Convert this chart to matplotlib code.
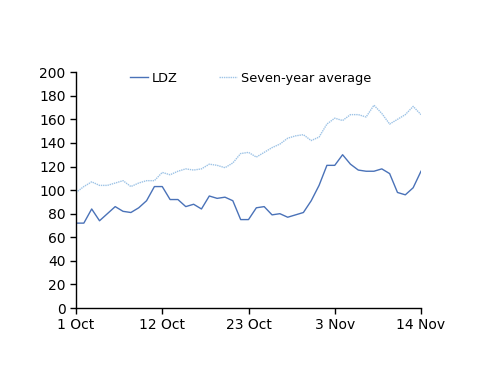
import numpy as np
import matplotlib
matplotlib.use("Agg")
import matplotlib.pyplot as plt

# daily values, 1 Oct .. 14 Nov
ldz = [72, 72, 84, 74, 80, 86, 82, 81, 85, 91, 103, 103, 92, 92, 86, 88, 84, 95, 93, 94,
       91, 75, 75, 85, 86, 79, 80, 77, 79, 81, 91, 104, 121, 121, 130, 122, 117, 116, 116,
       118, 114, 98, 96, 102, 116]
seven_year = [98, 103, 107, 104, 104, 106, 108, 103, 106, 108, 108, 115, 113, 116, 118, 117,
              118, 122, 121, 119, 123, 131, 132, 128, 132, 136, 139, 144, 146, 147, 142, 145,
              156, 161, 159, 164, 164, 162, 172, 165, 156, 160, 164, 171, 164]
tick_labels = ["1 Oct", "12 Oct", "23 Oct", "3 Nov", "14 Nov"]

days = np.arange(len(ldz))

fig = plt.figure(figsize=(5.0, 3.86), dpi=100)
ax = fig.add_axes([0.152, 0.202, 0.690, 0.611])

ax.plot(days, ldz, color="#4a72b8", lw=1.0, label="LDZ")
ax.plot(days, seven_year, color="#9dc3e6", lw=1.0, ls=(0, (1, 0.6)), label="Seven-year average")

ax.set_xlim(0, 44)
ax.set_ylim(0, 200)
ax.set_xticks([0, 11, 22, 33, 44])
ax.set_xticklabels(tick_labels)
ax.set_yticks(range(0, 201, 20))

for s in ["top", "right"]:
    ax.spines[s].set_visible(False)
ax.spines["left"].set_linewidth(1.0)
ax.spines["bottom"].set_linewidth(1.0)
ax.tick_params(direction="out", length=4, width=1.0, labelsize=10, colors="black")

# legend sits inside the plot, along the top
ax.legend(loc="center", bbox_to_anchor=(0.505, 0.975), ncol=2, frameon=False,
          fontsize=9.3, handlelength=1.4, handletextpad=0.3, columnspacing=3.2)

fig.savefig("out.png", dpi=100)
